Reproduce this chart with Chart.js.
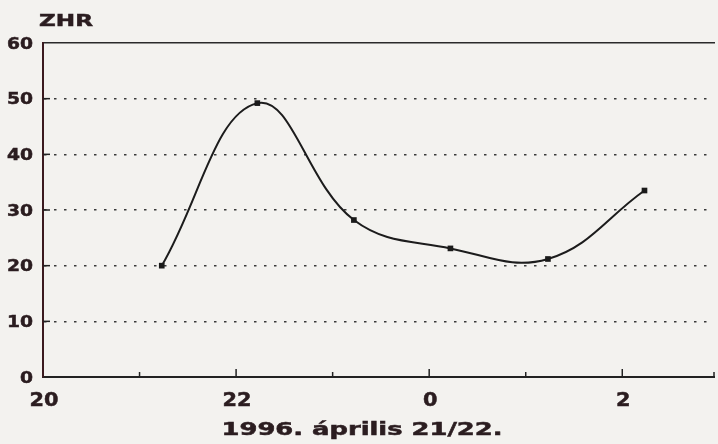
<!DOCTYPE html>
<html>
<head>
<meta charset="utf-8">
<script src="https://cdn.jsdelivr.net/npm/chart.js@4"></script>
<style>
  html, body { margin: 0; padding: 0; background: #f3f2ef; }
  #wrap { width: 718px; height: 444px; position: relative; }
</style>
</head>
<body>
<div id="wrap"><canvas id="chart"></canvas></div>
<script>
// ZHR megfigyelések, 1996. április 21/22. (óra, 24 felett = éjfél után)
const hours = [21.23, 22.22, 23.22, 24.22, 25.23, 26.23];
const zhr = [20.0, 49.2, 28.2, 23.1, 21.2, 33.5];

const xTickValues = [20, 22, 24, 26];
const xTickLabels = ['20', '22', '0', '2'];
const yTickValues = [0, 10, 20, 30, 40, 50, 60];

const yTitle = 'ZHR';
const xTitle = '1996. április 21/22.';

const ink = '#2b1d20';
const fontName = '"DejaVu Sans", sans-serif';

// felirat vízszintesen nyújtva, mint az eredeti nyomtatott ábrán
function stretched(ctx, text, px, py, size, sx, align) {
  ctx.font = 'bold ' + size + 'px ' + fontName;
  const w = ctx.measureText(text).width * sx;
  let left = px;
  if (align === 'right') left = px - w;
  if (align === 'center') left = px - w / 2;
  ctx.save();
  ctx.translate(left, py);
  ctx.scale(sx, 1);
  ctx.textAlign = 'left';
  ctx.textBaseline = 'middle';
  ctx.lineWidth = 0.5;
  ctx.strokeStyle = ink;
  ctx.fillText(text, 0, 0);
  ctx.strokeText(text, 0, 0);
  ctx.restore();
}

function fitScale(ctx, text, size, width) {
  ctx.font = 'bold ' + size + 'px ' + fontName;
  return width / ctx.measureText(text).width;
}

const decor = {
  id: 'decor',
  afterDraw(chart) {
    const ctx = chart.ctx;
    const x = chart.scales.x;
    const y = chart.scales.y;
    const area = chart.chartArea;
    ctx.save();

    // befelé mutató osztások
    ctx.strokeStyle = '#222';
    ctx.lineWidth = 1.5;
    x.ticks.forEach(t => {
      if (t.value <= x.min) return;
      const px = x.getPixelForValue(t.value);
      const len = (Math.round(t.value) % 2 === 0) ? 8 : 5;
      ctx.beginPath();
      ctx.moveTo(px, area.bottom);
      ctx.lineTo(px, area.bottom - len);
      ctx.stroke();
    });
    yTickValues.forEach(v => {
      if (v === 0 || v === 60) return;
      const py = y.getPixelForValue(v);
      ctx.beginPath();
      ctx.moveTo(area.left, py);
      ctx.lineTo(area.left + 7, py);
      ctx.stroke();
    });

    ctx.fillStyle = ink;
    const sy = fitScale(ctx, '50', 16, 26);
    yTickValues.forEach(v => {
      stretched(ctx, String(v), 33, y.getPixelForValue(v) + 1.5, 16, sy, 'right');
    });
    const sxx = fitScale(ctx, '20', 19, 29);
    xTickValues.forEach((v, i) => {
      stretched(ctx, xTickLabels[i], x.getPixelForValue(v) + 1, 401, 19, sxx, 'center');
    });
    stretched(ctx, yTitle, 39, 21.5, 16.5, fitScale(ctx, yTitle, 16.5, 54), 'left');
    stretched(ctx, xTitle, 362, 431, 17, fitScale(ctx, xTitle, 17, 281), 'center');
    ctx.restore();
  }
};

const ctx = document.getElementById('chart').getContext('2d');
new Chart(ctx, {
  type: 'line',
  data: {
    datasets: [{
      label: 'ZHR',
      data: hours.map((h, i) => ({ x: h, y: zhr[i] })),
      borderColor: '#1c1c1c',
      borderWidth: 2,
      backgroundColor: '#1a1a1a',
      pointStyle: 'rect',
      pointRadius: 4,
      pointBorderWidth: 0,
      tension: 0.4,
      fill: false
    }]
  },
  options: {
    responsive: true,
    maintainAspectRatio: false,
    animation: false,
    layout: { padding: { top: 43, right: 0, bottom: 0, left: 0 } },
    plugins: {
      legend: { display: false },
      tooltip: { enabled: false }
    },
    scales: {
      x: {
        type: 'linear',
        min: 20,
        max: 26.95,
        ticks: { stepSize: 1, display: false },
        grid: { display: true, drawOnChartArea: false, drawTicks: false, color: 'rgba(0,0,0,0)' },
        border: { display: true, color: '#222', width: 2 },
        afterFit: s => { s.height = 67; }
      },
      x2: {
        type: 'linear',
        position: 'top',
        min: 20,
        max: 26.95,
        ticks: { display: false },
        grid: { display: true, drawOnChartArea: false, drawTicks: false, color: 'rgba(0,0,0,0)' },
        border: { display: true, color: '#2a2a2a', width: 1.5 },
        afterFit: s => { s.height = 0; }
      },
      y: {
        min: 0,
        max: 60,
        ticks: { stepSize: 10, display: false },
        grid: {
          drawTicks: false,
          color: c => (c.tick.value === 0 || c.tick.value === 60) ? 'rgba(0,0,0,0)' : '#3a3a3a',
          lineWidth: 1.5
        },
        border: { display: true, color: '#3b1a1f', width: 2, dash: [2.5, 7.5] },
        afterFit: s => { s.width = 43; }
      }
    }
  },
  plugins: [decor]
});
</script>
</body>
</html>
